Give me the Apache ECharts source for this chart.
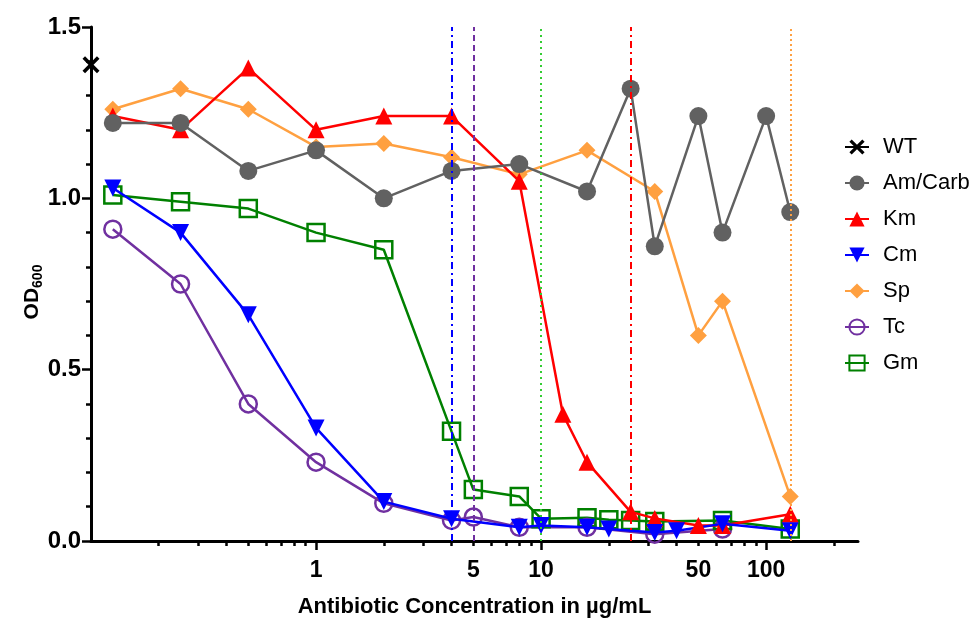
<!DOCTYPE html>
<html>
<head>
<meta charset="utf-8">
<script src="https://cdn.jsdelivr.net/npm/echarts@6/dist/echarts.min.js"></script>
<style>
  html, body { margin: 0; padding: 0; background: #fff; }
  #chart { width: 978px; height: 619px; }
</style>
</head>
<body>
<div id="chart"></div>
<script>
// Growth (OD600) across antibiotic concentrations, µg/mL
const wtConc = [0.1];
const wtOD = [1.39];

const amConc = [0.125, 0.25, 0.5, 1, 2, 4, 8, 16, 25, 32, 50, 64, 100, 128];
const amOD = [1.22, 1.22, 1.08, 1.14, 1.00, 1.08, 1.10, 1.02, 1.32, 0.86, 1.24, 0.90, 1.24, 0.96];

const kmConc = [0.125, 0.25, 0.5, 1, 2, 4, 8, 12.5, 16, 25, 32, 50, 64, 128];
const kmOD = [1.24, 1.20, 1.38, 1.20, 1.24, 1.24, 1.05, 0.37, 0.23, 0.085, 0.066, 0.045, 0.045, 0.078];

const cmConc = [0.125, 0.25, 0.5, 1, 2, 4, 8, 10, 16, 20, 32, 40, 64, 128];
const cmOD = [1.03, 0.90, 0.66, 0.33, 0.115, 0.065, 0.04, 0.045, 0.04, 0.035, 0.025, 0.03, 0.05, 0.03];

const spConc = [0.125, 0.25, 0.5, 1, 2, 4, 8, 16, 32, 50, 64, 128];
const spOD = [1.26, 1.32, 1.26, 1.15, 1.16, 1.12, 1.07, 1.14, 1.02, 0.60, 0.70, 0.13];

const tcConc = [0.125, 0.25, 0.5, 1, 2, 4, 5, 8, 16, 32, 64];
const tcOD = [0.91, 0.75, 0.40, 0.23, 0.11, 0.06, 0.07, 0.04, 0.04, 0.02, 0.035];

const gmConc = [0.125, 0.25, 0.5, 1, 2, 4, 5, 8, 10, 16, 20, 25, 32, 64, 128];
const gmOD = [1.01, 0.99, 0.97, 0.90, 0.85, 0.32, 0.15, 0.13, 0.065, 0.068, 0.062, 0.06, 0.057, 0.06, 0.035];

// MIC reference lines (µg/mL)
const micCm = 4;
const micTc = 5;
const micGm = 10;
const micKm = 25;
const micSp = 128;

// Axis ticks and labels
const xTickLabels = [1, 5, 10, 50, 100];
const xMajorTicks = [1, 10, 100];
const xMinorTicks = [0.2, 0.3, 0.4, 0.5, 0.6, 0.7, 0.8, 0.9,
                     2, 3, 4, 5, 6, 7, 8, 9,
                     20, 30, 40, 50, 60, 70, 80, 90, 200];

const FONT = "'Liberation Sans', Arial, sans-serif";
const pair = (xs, ys) => xs.map((x, i) => [x, ys[i]]);

const crossPath = 'path://M0,1.5L1.5,0L5,3.5L8.5,0L10,1.5L6.5,5L10,8.5L8.5,10L5,6.5L1.5,10L0,8.5L3.5,5Z';

function micLine(value, color, type) {
  return {
    silent: true,
    symbol: 'none',
    label: { show: false },
    lineStyle: { color: color, width: 2, type: type, opacity: 1 },
    emphasis: { disabled: true },
    data: [{ xAxis: value }]
  };
}

function lineSeries(name, data, color, extra) {
  return Object.assign({
    name: name,
    type: 'line',
    xAxisIndex: 0,
    data: data,
    clip: false,
    lineStyle: { color: color, width: 2.5 },
    itemStyle: { color: color },
    emphasis: { disabled: true }
  }, extra || {});
}

const chart = echarts.init(document.getElementById('chart'), null, { renderer: 'canvas' });

chart.setOption({
  animation: false,
  backgroundColor: '#fff',
  textStyle: { fontFamily: FONT },
  grid: { left: 91, right: 120, top: 27, bottom: 78, containLabel: false, outerBoundsMode: 'none' },
  legend: {
    orient: 'vertical',
    left: 844,
    top: 136,
    padding: 0,
    itemWidth: 24,
    itemHeight: 19,
    itemGap: 14,
    selectedMode: false,
    textStyle: { fontSize: 22, color: '#000', fontFamily: FONT, padding: [0, 0, 0, 9] },
    data: ['WT', 'Am/Carb', 'Km', 'Cm', 'Sp', 'Tc', 'Gm']
  },
  xAxis: [
    {
      type: 'log',
      logBase: 10,
      min: 0.1,
      max: 256,
      name: 'Antibiotic Concentration in µg/mL',
      nameLocation: 'middle',
      nameGap: 55,
      nameTextStyle: { fontSize: 22, fontWeight: 'bold', color: '#000', fontFamily: FONT },
      axisLine: { show: true, onZero: false, lineStyle: { color: '#000', width: 3 } },
      axisTick: { show: true, customValues: xMajorTicks, length: 9, lineStyle: { color: '#000', width: 2.5 } },
      axisLabel: {
        customValues: xTickLabels,
        fontSize: 23, fontWeight: 'bold', color: '#000', fontFamily: FONT, margin: 18,
        formatter: v => String(Math.round(v))
      },
      splitLine: { show: false }
    },
    {
      type: 'log',
      logBase: 10,
      min: 0.1,
      max: 256,
      position: 'bottom',
      axisLine: { show: false },
      axisTick: { show: true, customValues: xMinorTicks, length: 5, lineStyle: { color: '#000', width: 2.5 } },
      axisLabel: { show: false },
      splitLine: { show: false }
    }
  ],
  yAxis: {
    type: 'value',
    min: 0,
    max: 1.5,
    interval: 0.5,
    name: '{a|OD}{b|600}',
    nameLocation: 'middle',
    nameRotate: 90,
    nameGap: 46,
    nameMoveOverlap: false,
    nameTextStyle: {
      padding: [0, 16, 0, 0],
      rich: {
        a: { fontSize: 21, fontWeight: 'bold', color: '#000', fontFamily: FONT, lineHeight: 26, verticalAlign: 'middle' },
        b: { fontSize: 14, fontWeight: 'bold', color: '#000', fontFamily: FONT, verticalAlign: 'bottom', lineHeight: 26, padding: [10, 0, 0, 0] }
      }
    },
    axisLine: { show: true, onZero: false, lineStyle: { color: '#000', width: 3 } },
    axisTick: { show: true, length: 9, lineStyle: { color: '#000', width: 2.5 } },
    minorTick: { show: true, splitNumber: 5, length: 5, lineStyle: { color: '#000', width: 2.5 } },
    axisLabel: {
      fontSize: 24, fontWeight: 'bold', color: '#000', fontFamily: FONT, margin: 10,
      formatter: v => v.toFixed(1)
    },
    splitLine: { show: false }
  },
  series: [
    lineSeries('WT', pair(wtConc, wtOD), '#000', {
      symbol: crossPath, symbolSize: 17, z: 5
    }),
    lineSeries('Am/Carb', pair(amConc, amOD), '#616161', {
      symbol: 'circle', symbolSize: 18, z: 4
    }),
    lineSeries('Km', pair(kmConc, kmOD), '#ff0000', {
      symbol: 'triangle', symbolSize: 17, z: 3,
      markLine: micLine(micKm, '#ff0000', [7, 4, 2, 4])
    }),
    lineSeries('Cm', pair(cmConc, cmOD), '#0000ff', {
      symbol: 'triangle', symbolRotate: 180, symbolSize: 17, z: 3,
      markLine: micLine(micCm, '#0000ff', [7, 4, 2, 4])
    }),
    lineSeries('Sp', pair(spConc, spOD), '#ffa040', {
      symbol: 'diamond', symbolSize: 17, z: 2,
      markLine: micLine(micSp, '#ffa040', [2, 3])
    }),
    lineSeries('Tc', pair(tcConc, tcOD), '#7030a0', {
      symbol: 'circle', symbolSize: 17, z: 2,
      itemStyle: { color: 'rgba(255,255,255,0)', borderColor: '#7030a0', borderWidth: 2.5 },
      markLine: micLine(micTc, '#7030a0', [6, 4])
    }),
    lineSeries('Gm', pair(gmConc, gmOD), '#008000', {
      symbol: 'rect', symbolSize: 17, z: 2,
      itemStyle: { color: 'rgba(255,255,255,0)', borderColor: '#008000', borderWidth: 2.5 },
      markLine: micLine(micGm, '#33cc33', [2, 4])
    })
  ]
});
</script>
</body>
</html>
